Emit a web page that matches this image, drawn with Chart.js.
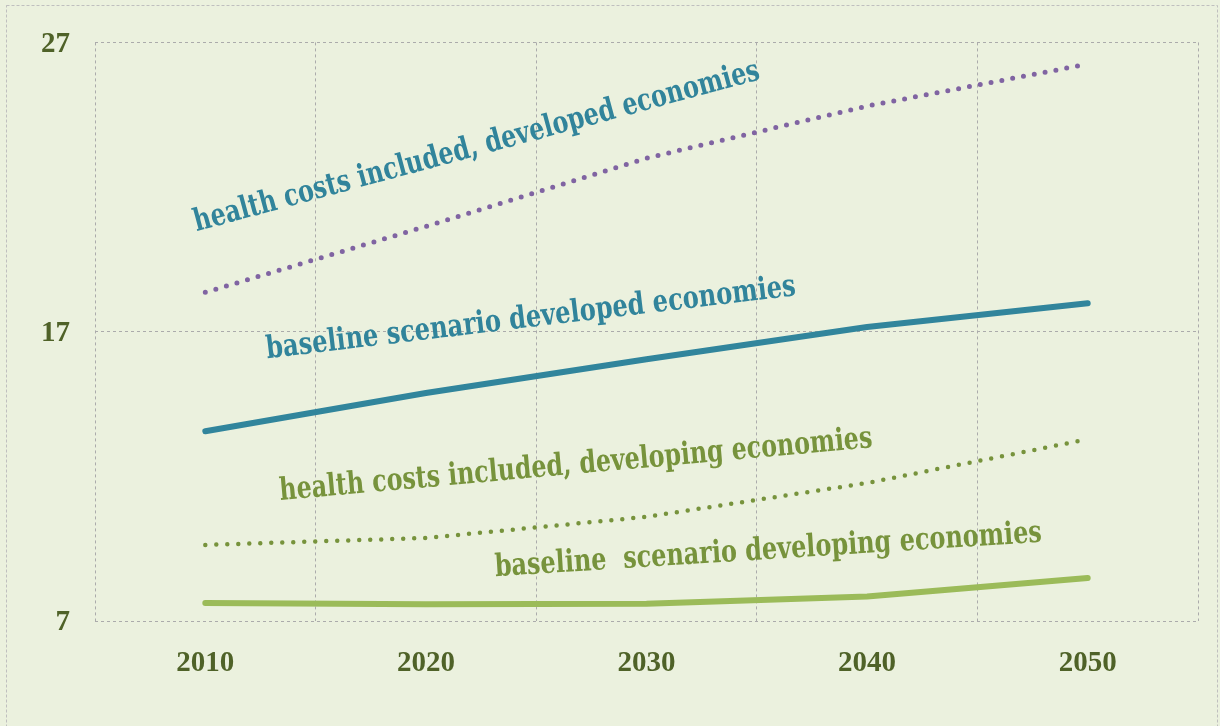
<!DOCTYPE html>
<html>
<head>
<meta charset="utf-8">
<script src="https://cdn.jsdelivr.net/npm/chart.js@4.4.0/dist/chart.umd.min.js"></script>
<style>
  html, body { margin: 0; padding: 0; background: #EBF1DE; }
  #wrap { width: 1220px; height: 726px; position: relative; }
</style>
</head>
<body>
<div id="wrap"><canvas id="c" width="1220" height="726"></canvas></div>
<script>
// ---- data ----
const years = ['2010', '2020', '2030', '2040', '2050'];
const healthDeveloped   = [18.36, 20.64, 23.0, 24.8, 26.25];
const baselineDeveloped = [13.56, 14.88, 16.05, 17.16, 17.98];
const healthDeveloping  = [9.63, 9.87, 10.6, 11.77, 13.28];
const baselineDeveloping = [7.62, 7.58, 7.6, 7.85, 8.49];
const yTicks = [7, 17, 27];

const seriesLabels = [
  'health costs included, developed economies',
  'baseline scenario developed economies',
  'health costs included, developing economies',
  'baseline  scenario developing economies'
];

// label placement (anchor in data units: category index, value), styling
const labelStyles = [
  { x: -0.04, y: 20.47, angle: -15.1, width: 585, color: '#31849B' },
  { x: 0.281, y: 16.08, angle: -6.8,  width: 533, color: '#31849B' },
  { x: 0.34,  y: 11.18, angle: -5.1,  width: 595, color: '#77933C' },
  { x: 1.315, y: 8.55,  angle: -3.6,  width: 548, color: '#77933C' }
];

const bgPlugin = {
  id: 'bg',
  beforeDraw(chart) {
    const ctx = chart.ctx;
    ctx.save();
    ctx.fillStyle = '#EBF1DE';
    ctx.fillRect(0, 0, chart.width, chart.height);
    ctx.strokeStyle = '#BFBFBF';
    ctx.lineWidth = 1;
    ctx.setLineDash([3, 2]);
    ctx.strokeRect(6.5, 5.5, 1211, 740);
    ctx.restore();
  }
};

const labelPlugin = {
  id: 'lineLabels',
  afterDatasetsDraw(chart) {
    const ctx = chart.ctx;
    const xs = chart.scales.x, ys = chart.scales.y;
    seriesLabels.forEach((txt, i) => {
      const st = labelStyles[i];
      const px = xs.getPixelForValue(st.x);
      const py = ys.getPixelForValue(st.y);
      ctx.save();
      ctx.font = 'bold 31px "DejaVu Serif"';
      const w = ctx.measureText(txt).width;
      ctx.translate(px, py);
      ctx.rotate(st.angle * Math.PI / 180);
      ctx.scale(st.width / w, 1);
      ctx.fillStyle = st.color;
      ctx.textBaseline = 'alphabetic';
      ctx.textAlign = 'left';
      ctx.fillText(txt, 0, 0);
      ctx.restore();
    });
  }
};

const gridColor = '#ABABAB';

new Chart(document.getElementById('c'), {
  type: 'line',
  data: {
    labels: years,
    datasets: [
      { label: seriesLabels[0], data: healthDeveloped, borderColor: '#8064A2',
        borderWidth: 5, borderDash: [0, 11], borderCapStyle: 'round', pointRadius: 0, tension: 0 },
      { label: seriesLabels[1], data: baselineDeveloped, borderColor: '#31859C',
        borderWidth: 6, borderCapStyle: 'round', borderJoinStyle: 'round', pointRadius: 0, tension: 0 },
      { label: seriesLabels[2], data: healthDeveloping, borderColor: '#77933C',
        borderWidth: 4.5, borderDash: [0, 11], borderCapStyle: 'round', pointRadius: 0, tension: 0 },
      { label: seriesLabels[3], data: baselineDeveloping, borderColor: '#9BBB59',
        borderWidth: 6, borderCapStyle: 'round', borderJoinStyle: 'round', pointRadius: 0, tension: 0 }
    ]
  },
  options: {
    responsive: false,
    animation: false,
    events: [],
    layout: { padding: { left: 0, top: 42, right: 22, bottom: 0 } },
    plugins: { legend: { display: false }, tooltip: { enabled: false } },
    scales: {
      x: {
        offset: true,
        grid: { offset: true, color: gridColor, drawTicks: false },
        border: { display: false, dash: [3, 3] },
        ticks: { color: '#4F6228', font: { family: '"Liberation Serif"', size: 29, weight: 'bold' }, padding: 25 },
        afterFit(scale) { scale.height = 105; }
      },
      y: {
        min: 7, max: 27,
        afterBuildTicks(scale) { scale.ticks = yTicks.map(v => ({ value: v })); },
        grid: { color: gridColor, drawTicks: false },
        border: { display: false, dash: [3, 3] },
        ticks: { color: '#4F6228', font: { family: '"Liberation Serif"', size: 29, weight: 'bold' }, padding: 25, labelOffset: 2 },
        afterFit(scale) { scale.width = 95; }
      }
    }
  },
  plugins: [bgPlugin, labelPlugin]
});
</script>
</body>
</html>
